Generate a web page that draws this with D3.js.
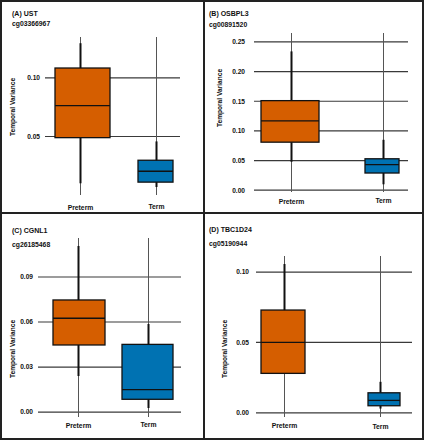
<!DOCTYPE html>
<html><head><meta charset="utf-8">
<script src="https://cdn.jsdelivr.net/npm/d3@7"></script>
<style>
html,body{margin:0;padding:0;background:#fff;}
svg text{font-family:"Liberation Sans",Arial,sans-serif;font-weight:bold;fill:#111;}
</style></head>
<body>
<svg id="c" width="424" height="440"></svg>
<script>
// ---- data ----
const categories = ["Preterm", "Term"];
const panelTitles = ["(A) UST", "(B) OSBPL3", "(C) CGNL1", "(D) TBC1D24"];
const probeIds = ["cg03366967", "cg00891520", "cg26185468", "cg05190944"];
const yAxisLabel = "Temporal Variance";
// box stats per panel: [whiskerLow, q1, median, q3, whiskerHigh] for Preterm, Term
const statsA = [[0.010, 0.049, 0.0763, 0.1085, 0.1297], [0.0068, 0.011, 0.0203, 0.0297, 0.0458]];
const statsB = [[0.048, 0.081, 0.117, 0.151, 0.234], [0.010, 0.029, 0.043, 0.053, 0.085]];
const statsC = [[0.024, 0.0447, 0.0625, 0.0747, 0.1107], [0.0027, 0.0085, 0.015, 0.0451, 0.0587]];
const statsD = [[0.028, 0.028, 0.050, 0.073, 0.1057], [0.003, 0.005, 0.0088, 0.0142, 0.022]];
const ticksA = [0.05, 0.10];
const ticksB = [0.00, 0.05, 0.10, 0.15, 0.20, 0.25];
const ticksC = [0.00, 0.03, 0.06, 0.09];
const ticksD = [0.00, 0.05, 0.10];
const domainA = [0, 0.135];
const domainB = [-0.003, 0.265];
const domainC = [-0.0033, 0.116];
const domainD = [-0.003, 0.1114];

// ---- layout ----
const colors = ["#d55e00", "#0072b2"];
const layouts = [
  {stats: statsA, ticks: ticksA, domain: domainA, gx: [45, 180], yr: [195, 37], px: [80.5, 156.5], bw: [55, 35], bdx: [2, -1],
   tickX: 40, titleX: 12, titleY: 15.5, probeY: 26, axX: 13, axY: 107, catY: [210, 208.5]},
  {stats: statsB, ticks: ticksB, domain: domainB, gx: [254, 408], yr: [192, 33], px: [291.5, 383.5], bw: [58, 34], bdx: [-1.5, -1.5],
   tickX: 245, titleX: 209, titleY: 16, probeY: 26.5, axX: 219.5, axY: 98, catY: [204, 202.5]},
  {stats: statsC, ticks: ticksC, domain: domainC, gx: [38, 181], yr: [417, 238], px: [78.5, 148.5], bw: [52, 51], bdx: [0.5, -1],
   tickX: 33, titleX: 12, titleY: 232.5, probeY: 246.5, axX: 12.5, axY: 349, catY: [428, 427]},
  {stats: statsD, ticks: ticksD, domain: domainD, gx: [256, 412], yr: [417, 256], px: [284.5, 380.5], bw: [44, 32], bdx: [-1.5, 3.5],
   tickX: 249, titleX: 209, titleY: 232, probeY: 246, axX: 224.5, axY: 349, catY: [427.5, 429]}
];

const svg = d3.select("#c");

layouts.forEach((L, i) => {
  const g = svg.append("g");
  const y = d3.scaleLinear().domain(L.domain).range(L.yr);
  const x = d3.scalePoint().domain(categories).range(L.px);

  // horizontal grid lines at ticks
  g.selectAll("line.hg").data(L.ticks).join("line")
    .attr("x1", L.gx[0]).attr("x2", L.gx[1])
    .attr("y1", d => y(d)).attr("y2", d => y(d))
    .attr("stroke", "#3a3a3a").attr("stroke-width", 1.2);
  // vertical grid lines at categories
  g.selectAll("line.vg").data(categories).join("line")
    .attr("x1", d => x(d)).attr("x2", d => x(d))
    .attr("y1", L.yr[1]).attr("y2", L.yr[0])
    .attr("stroke", "#555").attr("stroke-width", 1);
  // tick labels
  g.selectAll("text.tk").data(L.ticks).join("text")
    .attr("x", L.tickX).attr("y", d => y(d) + 2.4)
    .attr("text-anchor", "end").attr("font-size", 6.6)
    .text(d => d3.format(".2f")(d));

  // boxes
  const bx = g.selectAll("g.box").data(categories).join("g");
  bx.append("line")
    .attr("x1", d => x(d)).attr("x2", d => x(d))
    .attr("y1", (d, j) => y(L.stats[j][4])).attr("y2", (d, j) => y(L.stats[j][3]))
    .attr("stroke", "#111").attr("stroke-width", 2);
  bx.append("line")
    .attr("x1", d => x(d)).attr("x2", d => x(d))
    .attr("y1", (d, j) => y(L.stats[j][1])).attr("y2", (d, j) => y(L.stats[j][0]))
    .attr("stroke", "#111").attr("stroke-width", 2);
  bx.append("rect")
    .attr("x", (d, j) => x(d) + L.bdx[j] - L.bw[j] / 2)
    .attr("width", (d, j) => L.bw[j])
    .attr("y", (d, j) => y(L.stats[j][3]))
    .attr("height", (d, j) => y(L.stats[j][1]) - y(L.stats[j][3]))
    .attr("fill", (d, j) => colors[j]).attr("stroke", "#111").attr("stroke-width", 1.3);
  bx.append("line")
    .attr("x1", (d, j) => x(d) + L.bdx[j] - L.bw[j] / 2)
    .attr("x2", (d, j) => x(d) + L.bdx[j] + L.bw[j] / 2)
    .attr("y1", (d, j) => y(L.stats[j][2])).attr("y2", (d, j) => y(L.stats[j][2]))
    .attr("stroke", "#111").attr("stroke-width", 1.3);

  // category labels
  g.selectAll("text.cat").data(categories).join("text")
    .attr("x", d => x(d)).attr("y", (d, j) => L.catY[j])
    .attr("text-anchor", "middle").attr("font-size", 6.8)
    .text(d => d);

  // titles
  g.append("text").attr("x", L.titleX).attr("y", L.titleY).attr("font-size", 7).text(panelTitles[i]);
  g.append("text").attr("x", L.titleX).attr("y", L.probeY).attr("font-size", 6.8).text(probeIds[i]);

  // y axis label
  g.append("text")
    .attr("transform", `translate(${L.axX},${L.axY}) rotate(-90)`)
    .attr("text-anchor", "middle").attr("dy", "0.35em").attr("font-size", 6.6)
    .text(yAxisLabel);
});

// panel borders
svg.append("rect").attr("x", 1).attr("y", 1).attr("width", 422).attr("height", 438)
  .attr("fill", "none").attr("stroke", "#222").attr("stroke-width", 2);
svg.append("line").attr("x1", 204).attr("x2", 204).attr("y1", 0).attr("y2", 440)
  .attr("stroke", "#222").attr("stroke-width", 2);
svg.append("line").attr("x1", 0).attr("x2", 424).attr("y1", 213).attr("y2", 213)
  .attr("stroke", "#222").attr("stroke-width", 2);
</script>
</body></html>
